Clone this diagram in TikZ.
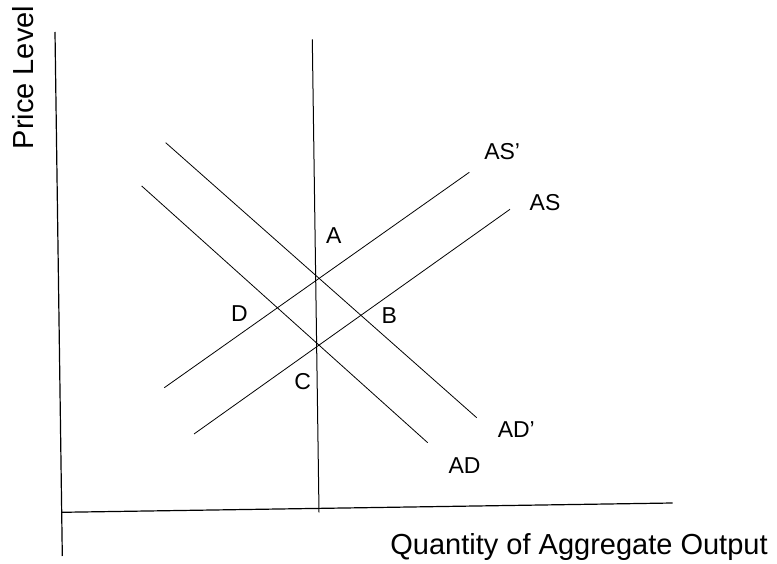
\documentclass[tikz,border=0pt]{standalone}
\usepackage{fontspec}
\setmainfont{Liberation Sans}
\usepackage{tikz}

\begin{document}
\begin{tikzpicture}[
  x=1pt, y=-1pt,
  axis/.style={draw=black, line width=1.2pt},
  curve/.style={draw=black, line width=.8pt},
  title/.style={font=\fontsize{29}{32}\selectfont, inner sep=0pt},
  point/.style={font=\fontsize{23}{26}\selectfont, inner sep=0pt}
]
\useasboundingbox (0,0) rectangle (777,564);

% Axes
\coordinate (ytop) at (55,32);
\coordinate (ybot) at (62.3,556);
\coordinate (xleft) at (61.7,512.3);
\coordinate (xright) at (672.7,503);
\draw[axis] (ytop) -- (ybot);
\draw[axis] (xleft) -- (xright);
\node[title, rotate=90, anchor=base] (ylab) at (33.3,77.5) {Price Level};
\node[title, anchor=base] (xlab) at (579,554) {Quantity of Aggregate Output};

% Long-run vertical line
\coordinate (lrtop) at (312.3,39.3);
\coordinate (lrbot) at (319,512.3);
\draw[axis, line width=1pt] (lrtop) -- (lrbot);

% Demand curves
\coordinate (adp1) at (165.7,142.7);
\coordinate (adp2) at (476.7,417.7);
\coordinate (ad1) at (141.7,186);
\coordinate (ad2) at (427.7,442.7);
\draw[curve] (adp1) -- (adp2);
\draw[curve] (ad1) -- (ad2);

% Supply curves
\coordinate (asp1) at (164.3,387.7);
\coordinate (asp2) at (469.3,172.3);
\coordinate (as1) at (194,434);
\coordinate (as2) at (510,209.3);
\draw[curve] (asp1) -- (asp2);
\draw[curve] (as1) -- (as2);

% Curve names
\node[point] (asplab) at (502.2,152) {AS’};
\node[point] (aslab) at (545,203) {AS};
\node[point] (adplab) at (516.3,430) {AD’};
\node[point] (adlab) at (464.5,465.3) {AD};

% Equilibrium points
\node[point] (ptA) at (333.7,235.3) {A};
\node[point] (ptB) at (389.2,315.8) {B};
\node[point] (ptC) at (302.8,382) {C};
\node[point] (ptD) at (239.5,314) {D};
\end{tikzpicture}
\end{document}
